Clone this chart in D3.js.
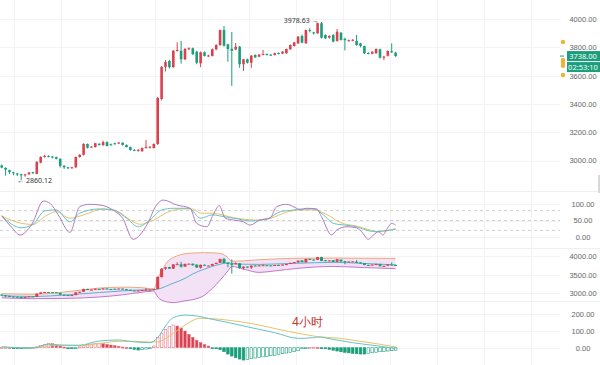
<!DOCTYPE html>
<html><head><meta charset="utf-8">
<script src="https://cdn.jsdelivr.net/npm/d3@7"></script>
<style>
html,body{margin:0;padding:0;background:#fff;}
svg{display:block;font-family:"Noto Sans",Roboto,sans-serif;}
</style></head><body>
<svg id="c" width="600" height="365"></svg>
<script>
// ---- data ----
const opens  = [2965,2948,2932,2916,2908,2903,2895,2903,2917,2905,2985,3025,3033,3028,3024,3012,2962,2952,2948,2952,3025,3040,3117,3093,3095,3118,3108,3130,3115,3122,3120,3126,3110,3095,3075,3070,3067,3088,3090,3088,3117,3435,3661,3703,3660,3776,3776,3715,3788,3793,3769,3687,3765,3739,3739,3786,3816,3922,3821,3790,3785,3804,3680,3715,3691,3746,3734,3748,3752,3748,3746,3760,3755,3758,3786,3809,3828,3880,3828,3922,3905,3899,3970,3887,3868,3887,3845,3903,3860,3845,3848,3845,3828,3809,3760,3755,3758,3786,3728,3740,3772,3762];
const highs  = [2972,2952,2935,2920,2912,2906,2906,2918,2920,2995,3030,3040,3036,3032,3028,3015,2968,2955,2956,3028,3045,3122,3120,3102,3125,3122,3140,3135,3120,3126,3130,3128,3113,3098,3080,3080,3092,3145,3102,3120,3450,3668,3710,3712,3780,3835,3845,3795,3800,3798,3775,3770,3770,3748,3792,3822,3925,3951,3825,3908,3830,3808,3718,3720,3745,3750,3752,3781,3756,3752,3762,3764,3772,3790,3820,3838,3880,3890,3925,3935,3910,3975,3978.63,3892,3885,3892,3929,3908,3868,3855,3858,3887,3832,3812,3765,3772,3792,3790,3740,3778,3828,3768];
const lows   = [2945,2893,2905,2895,2890,2860.12,2885,2898,2905,2903,2980,3020,3022,3015,3008,2950,2940,2940,2942,2948,3020,3035,3085,3090,3092,3105,3105,3100,3105,3112,3117,3106,3092,3070,3066,3062,3060,3085,3085,3085,3110,3425,3630,3650,3655,3770,3685,3710,3780,3745,3680,3660,3735,3732,3735,3780,3810,3805,3698,3527,3780,3655,3633,3685,3655,3725,3730,3745,3742,3738,3742,3750,3752,3754,3782,3805,3824,3828,3825,3905,3890,3895,3862,3858,3862,3835,3840,3848,3778,3840,3843,3810,3800,3752,3750,3750,3754,3720,3710,3735,3760,3732];
const closes = [2950,2935,2918,2910,2903,2895,2902,2915,2910,2990,3025,3033,3028,3022,3012,2962,2952,2948,2952,3025,3040,3117,3090,3098,3122,3110,3130,3102,3110,3118,3127,3110,3095,3074,3070,3075,3088,3095,3097,3117,3442,3661,3696,3660,3776,3781,3715,3788,3793,3751,3691,3765,3739,3742,3786,3816,3922,3811,3788,3775,3804,3680,3715,3691,3741,3729,3748,3752,3746,3743,3758,3755,3769,3788,3816,3835,3875,3833,3922,3915,3898,3970,3868,3864,3880,3840,3910,3852,3850,3850,3853,3816,3809,3758,3755,3769,3788,3727,3734,3774,3766,3738];

const priceTicks = [3000,3200,3400,3600,3800,4000];
const kdjTicks = [0,50,100];
const kdjLevels = [20,50,80];
const bollTicks = [3000,3500,4000];
const macdTicks = [0,100,200];

// KDJ lines: [candle index, value]
const kLine = [[0,64],[5,28],[8,38],[11,79],[14,82],[17.5,46],[20,72],[25,85],[28.5,82],[32,57],[35,31],[38,51.5],[41,82],[44,87],[48,87],[51,57],[54,67],[57,61.5],[59.5,57],[64,48.5],[68,54.5],[71.5,77],[75,82],[76.5,85],[80,85],[82.5,67],[85,41.5],[88,36],[91,31],[94,19],[96,16],[98,19],[101,23]];
const dLine = [[0,64],[5,41.5],[8,38],[11,61.5],[14,77],[17.5,57],[21,67],[26,85],[29.5,79],[33,51.5],[35.5,38.5],[39,51.5],[42.5,75],[46.5,85],[49,85],[51,72],[54,72],[59.5,58.5],[65,51.5],[69,57],[73,75],[76.5,82],[80,82],[83.5,67],[87,43],[91,33],[94.5,21],[97,16],[101,26]];
const jLine = [[0,64],[2.5,30],[4.7,6],[7.7,38],[10.7,109],[12.4,102],[14.5,67],[17.5,14],[20,92],[22.6,99],[25.2,97],[28.5,82],[31,57],[33.7,-7],[37.2,36],[39.7,97],[41.4,112],[44.9,97],[48.3,87],[50,41.5],[52.6,31],[54.2,67],[55.8,95],[57.3,57],[59.4,51.5],[62,46],[63.7,36],[66.2,51.5],[68.8,57],[70.5,92],[73.1,99],[75.6,87],[76.5,82],[78.2,87],[80.8,85],[82,61.5],[84.6,6],[85.9,21],[88.5,31],[90.6,29],[92.3,16],[94,-7],[95.3,6],[96.7,16],[97.7,6],[98.9,26],[100,41.5],[101,36]];

// Bollinger bands: [candle index, upper, middle, lower]
const bands = [[0,2990,2935,2880],[8,2975,2915,2855],[17,3045,2960,2865],[25,3140,3020,2900],[31,3165,3065,2960],[36,3150,3090,3030],[39,3115,3095,3060],[40,3400,3110,2900],[41,3600,3140,2820],[43,3900,3230,2760],[44,3960,3270,2750],[47,4060,3400,2800],[49,4080,3520,2830],[52,4090,3650,2950],[54,4085,3720,3130],[56,4070,3780,3350],[58,3960,3815,3600],[59,3860,3800,3720],[62,3870,3780,3650],[66,3900,3775,3560],[70,3920,3785,3600],[76,3940,3805,3670],[85,3945,3830,3720],[93,3940,3800,3690],[101,3935,3760,3660]];

// MACD histogram per candle
const macdHist = [2,3,2,-2,-3,-3,-2,-1,1,5,12,20,26,24,17,10,4,-2,-3,-1,5,12,18,22,25,27,24,20,16,12,8,4,1,-6,-10,-14,-12,-8,-4,10,60,85,110,128,136,130,118,100,80,62,45,30,20,10,-3,-6,-12,-24,-38,-50,-60,-68,-74,-70,-66,-62,-58,-55,-52,-48,-45,-40,-36,-32,-28,-24,-18,-3,-2,2,3,2,-1,-5,-10,-15,-20,-24,-28,-31,-34,-36,-38,-38,-34,-30,-27,-24,-22,-20,-18,-15];
const difLine = [[0,5],[8,-2],[12,20],[16,15],[20,15],[25,40],[30,46],[34,35],[38,30],[40,60],[42,130],[44,180],[47,195],[50,190],[53,175],[59,146],[64,120],[70,90],[76,56],[80,60],[81,64],[85,50],[90,30],[95,15],[101,-4]];
const deaLine = [[0,3],[8,0],[12,10],[16,15],[20,12],[25,25],[30,38],[34,38],[38,34],[40,35],[43,70],[46,120],[51,176],[54,174],[59,162],[64,145],[70,115],[76,86],[80,70],[81,66],[86,58],[90,45],[95,28],[101,5]];

const lowLabel = "2860.12", highLabel = "3978.63";
const lastPrice = "3738.00", countdown = "02:53:10";
const alertPrices = [3837,3710,3691,3670,3604];
const periodLabel = "4小时";

// ---- drawing ----
const svg = d3.select("#c");
const RED="#d9414f", GREEN="#1a9e7b";
const x = d3.scaleLinear().domain([0,101]).range([1.7,395.6]);
const yMain = d3.scaleLinear().domain([3000,4000]).range([160.5,19]);
const yK = d3.scaleLinear().domain([0,100]).range([237,204]);
const yB = d3.scaleLinear().domain([3000,4000]).range([293.3,256]);
const yM = d3.scaleLinear().domain([0,200]).range([347.7,314.3]);

// vertical grid
const vgrid = d3.range(14,560,47);
svg.append("g").selectAll("line").data(vgrid).join("line")
  .attr("x1",d=>d+0.5).attr("x2",d=>d+0.5).attr("y1",0).attr("y2",365)
  .attr("stroke","#f3f3f3");
// horizontal grids
function hgrid(scale, ticks){
  svg.append("g").selectAll("line").data(ticks).join("line")
    .attr("x1",0).attr("x2",560).attr("y1",d=>Math.round(scale(d))+0.5).attr("y2",d=>Math.round(scale(d))+0.5)
    .attr("stroke","#f3f3f3");
}
hgrid(yMain, priceTicks); hgrid(yK,kdjTicks); hgrid(yB,bollTicks); hgrid(yM,macdTicks);
// separators
svg.append("g").selectAll("line").data([191,248,301]).join("line")
  .attr("x1",0).attr("x2",600).attr("y1",d=>d+0.5).attr("y2",d=>d+0.5).attr("stroke","#f0f0f0");

// axes
function axis(scale, ticks){
  const g = svg.append("g").attr("transform","translate(583,0)")
    .call(d3.axisRight(scale).tickValues(ticks).tickFormat(d3.format(".2f")).tickSize(0).tickPadding(0));
  g.select(".domain").remove();
  g.selectAll("text").attr("text-anchor","middle").attr("fill","#666").style("font-size","7.5px").attr("dy","0.32em");
}
axis(yMain, priceTicks); axis(yK,kdjTicks); axis(yB,bollTicks); axis(yM,macdTicks);

// candles
const idx = d3.range(opens.length);
function candles(yS, bw, minH){
  const g = svg.append("g");
  g.selectAll("line").data(idx).join("line")
    .attr("x1",i=>x(i)).attr("x2",i=>x(i))
    .attr("y1",i=>yS(highs[i])).attr("y2",i=>yS(lows[i]))
    .attr("stroke",i=>closes[i]>=opens[i]?RED:GREEN).attr("stroke-width",1);
  g.selectAll("rect").data(idx).join("rect")
    .attr("x",i=>x(i)-bw/2).attr("width",bw)
    .attr("y",i=>yS(Math.max(opens[i],closes[i])))
    .attr("height",i=>Math.max(minH,Math.abs(yS(opens[i])-yS(closes[i]))))
    .attr("fill",i=>closes[i]>=opens[i]?RED:GREEN);
}

// KDJ
svg.append("g").selectAll("line").data(kdjLevels).join("line")
  .attr("x1",0).attr("x2",560).attr("y1",d=>yK(d)).attr("y2",d=>yK(d))
  .attr("stroke","#d0d0d0").attr("stroke-dasharray","3,3");
const lineK = d3.line().x(d=>x(d[0])).y(d=>yK(d[1])).curve(d3.curveMonotoneX);
[[dLine,"#e8c26a"],[kLine,"#66c3c8"],[jLine,"#b27ac4"]].forEach(([d,c])=>{
  svg.append("path").datum(d).attr("d",lineK).attr("fill","none").attr("stroke",c).attr("stroke-width",1);
});

// Bollinger
const area = d3.area().x(d=>x(d[0])).y0(d=>yB(d[3])).y1(d=>yB(d[1])).curve(d3.curveMonotoneX);
svg.append("path").datum(bands).attr("d",area).attr("fill","#f3e2f6");
const bl = k=>d3.line().x(d=>x(d[0])).y(d=>yB(d[k])).curve(d3.curveMonotoneX);
svg.append("path").datum(bands).attr("d",bl(1)).attr("fill","none").attr("stroke","#eea77c").attr("stroke-width",1);
svg.append("path").datum(bands).attr("d",bl(3)).attr("fill","none").attr("stroke","#c477c9").attr("stroke-width",1);
svg.append("path").datum(bands).attr("d",bl(2)).attr("fill","none").attr("stroke","#5fb0cc").attr("stroke-width",1);
candles(yB, 3, 1);

// MACD
const hb = svg.append("g");
hb.selectAll("rect").data(idx).join("rect")
  .attr("x",i=>x(i)-1.3).attr("width",2.6)
  .attr("y",i=>Math.min(yM(0),yM(macdHist[i])))
  .attr("height",i=>Math.max(1,Math.abs(yM(macdHist[i])-yM(0))))
  .attr("fill",i=>{const v=macdHist[i],p=i>0?macdHist[i-1]:0;
     return v>p ? "#fff" : (v>=0?RED:GREEN);})
  .attr("stroke",i=>macdHist[i]>=0?"#e07888":GREEN).attr("stroke-width",0.6);
const lineM = d3.line().x(d=>x(d[0])).y(d=>yM(d[1])).curve(d3.curveMonotoneX);
svg.append("path").datum(deaLine).attr("d",lineM).attr("fill","none").attr("stroke","#e8c26a").attr("stroke-width",1);
svg.append("path").datum(difLine).attr("d",lineM).attr("fill","none").attr("stroke","#66c3c8").attr("stroke-width",1);

// main candles
candles(yMain, 2.6, 1);

// annotations
const lowI = lows.indexOf(d3.min(lows)), highI = highs.indexOf(d3.max(highs));
svg.append("text").attr("x",x(lowI)-4).attr("y",yMain(+lowLabel)+2.5).attr("font-size","7px").attr("fill","#333").text("← "+lowLabel);
svg.append("text").attr("x",x(highI)-3).attr("y",yMain(+highLabel)+1).attr("text-anchor","end").attr("font-size","7px").attr("fill","#333").text(highLabel+" →");

// price tag
const yLast = yMain(+lastPrice);
svg.append("line").attr("x1",560).attr("x2",564).attr("y1",yLast).attr("y2",yLast).attr("stroke",GREEN);
svg.append("rect").attr("x",567).attr("y",yLast-5).attr("width",33).attr("height",10).attr("fill",GREEN);
svg.append("rect").attr("x",567).attr("y",yLast+6).attr("width",33).attr("height",10).attr("fill",GREEN);
svg.append("text").attr("x",583).attr("y",yLast+2.7).attr("text-anchor","middle").attr("fill","#fff").attr("font-size","7.5px").text(lastPrice);
svg.append("text").attr("x",583).attr("y",yLast+13.7).attr("text-anchor","middle").attr("fill","#fff").attr("font-size","7.5px").text(countdown);
// alert dots
svg.append("g").selectAll("circle").data(alertPrices).join("circle")
  .attr("cx",563).attr("cy",d=>yMain(d)).attr("r",2.2).attr("fill","#f0b232");
// scrollbar hint at right edge
svg.append("rect").attr("x",598).attr("y",175).attr("width",2).attr("height",18).attr("fill","#d8d8d8");

svg.append("text").attr("x",292).attr("y",326).attr("fill","#c8322f").attr("font-size","12px").text(periodLabel);
</script></body></html>
